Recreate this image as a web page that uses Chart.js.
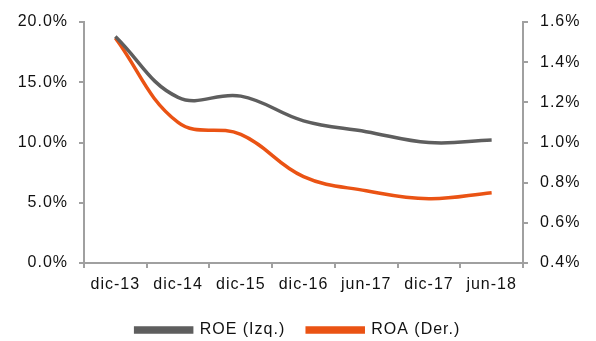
<!DOCTYPE html>
<html>
<head>
<meta charset="utf-8">
<script src="https://cdn.jsdelivr.net/npm/chart.js@4/dist/chart.umd.min.js"></script>
<style>
  html, body { margin: 0; padding: 0; background: #ffffff; }
  #wrap { width: 596px; height: 341px; position: relative; }
</style>
</head>
<body>
<div id="wrap"><canvas id="c"></canvas></div>
<script>
// Periods on the horizontal axis
const categories = ['dic-13', 'dic-14', 'dic-15', 'dic-16', 'jun-17', 'dic-17', 'jun-18'];
// ROE (%), left axis
const roe = [18.8, 13.75, 13.85, 11.8, 10.9, 10.0, 10.2];
// ROA (%), right axis
const roa = [1.52, 1.10, 1.04, 0.83, 0.76, 0.72, 0.75];
// Axis tick ranges
const leftTicks = { min: 0, max: 20, step: 5 };
const rightTicks = { min: 0.4, max: 1.6, step: 0.2 };

const FONT = 'Liberation Sans, Arial, sans-serif';
const AXIS_GREY = '#a0a0a0';
const TEXT = '#111111';

// Slightly wider letter spacing for all canvas text
const spacing = {
  id: 'spacing',
  beforeUpdate(chart) { chart.ctx.letterSpacing = '1px'; },
  beforeDraw(chart) { chart.ctx.letterSpacing = '1px'; }
};

// Fixed legend band height
const legendBand = {
  id: 'legendBand',
  beforeInit(chart) {
    const lg = chart.legend;
    if (!lg) return;
    const fit = lg.fit.bind(lg);
    lg.fit = function () { fit(); this.height = 41; };
  }
};

new Chart(document.getElementById('c'), {
  type: 'line',
  data: {
    labels: categories,
    datasets: [
      {
        label: 'ROE (Izq.)',
        data: roe,
        yAxisID: 'yL',
        borderColor: '#5e5e5e',
        backgroundColor: '#5e5e5e',
        borderWidth: 3.5,
        pointRadius: 0,
        tension: 0.4,
        fill: false
      },
      {
        label: 'ROA (Der.)',
        data: roa,
        yAxisID: 'yR',
        borderColor: '#ea5314',
        backgroundColor: '#ea5314',
        borderWidth: 3.5,
        pointRadius: 0,
        tension: 0.4,
        fill: false
      }
    ]
  },
  plugins: [spacing, legendBand],
  options: {
    responsive: true,
    maintainAspectRatio: false,
    animation: false,
    layout: { padding: { top: 22, right: 0, left: 0, bottom: 0 } },
    plugins: {
      tooltip: { enabled: false },
      legend: {
        position: 'bottom',
        labels: {
          boxWidth: 56,
          boxHeight: 4,
          padding: 22,
          color: TEXT,
          font: { family: FONT, size: 16 }
        }
      }
    },
    scales: {
      x: {
        offset: true,
        grid: { offset: true, drawOnChartArea: false, drawTicks: true, tickLength: 5, color: AXIS_GREY, lineWidth: 2 },
        border: { display: true, color: AXIS_GREY, width: 2 },
        ticks: { color: TEXT, font: { family: FONT, size: 16 }, padding: 7, maxRotation: 0, autoSkip: false },
        afterFit: s => { s.height = 37; }
      },
      yL: {
        position: 'left',
        min: leftTicks.min,
        max: leftTicks.max,
        grid: { drawOnChartArea: false, drawTicks: true, tickLength: 5, color: AXIS_GREY, lineWidth: 2 },
        border: { display: true, color: AXIS_GREY, width: 2 },
        ticks: {
          stepSize: leftTicks.step,
          color: TEXT,
          font: { family: FONT, size: 16 },
          padding: 11,
          callback: v => v.toFixed(1) + '%'
        },
        afterFit: s => { s.width = 84; }
      },
      yR: {
        position: 'right',
        min: rightTicks.min,
        max: rightTicks.max,
        grid: { drawOnChartArea: false, drawTicks: true, tickLength: 5, color: AXIS_GREY, lineWidth: 2 },
        border: { display: true, color: AXIS_GREY, width: 2 },
        ticks: {
          stepSize: rightTicks.step,
          color: TEXT,
          font: { family: FONT, size: 16 },
          padding: 12,
          callback: v => v.toFixed(1) + '%'
        },
        afterFit: s => { s.width = 73; }
      }
    }
  }
});
</script>
</body>
</html>
